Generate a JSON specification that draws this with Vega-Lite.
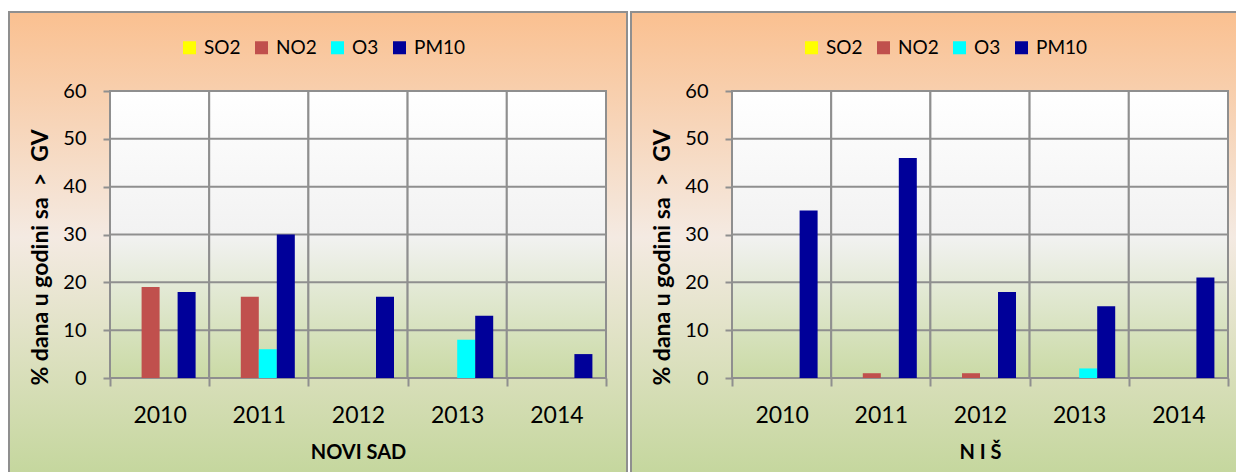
{
  "$schema": "https://vega.github.io/schema/vega-lite/v6.json",
  "background": "white",
  "padding": {"left": 8, "top": 11, "right": 0, "bottom": 0},
  "spacing": 2,
  "resolve": {"scale": {"color": "independent"}, "legend": {"color": "independent"}},
  "datasets": {
    "novisad": [
      {"year": "2010", "pollutant": "SO2", "value": 0},
      {"year": "2010", "pollutant": "NO2", "value": 19},
      {"year": "2010", "pollutant": "O3", "value": 0},
      {"year": "2010", "pollutant": "PM10", "value": 18},
      {"year": "2011", "pollutant": "SO2", "value": 0},
      {"year": "2011", "pollutant": "NO2", "value": 17},
      {"year": "2011", "pollutant": "O3", "value": 6},
      {"year": "2011", "pollutant": "PM10", "value": 30},
      {"year": "2012", "pollutant": "SO2", "value": 0},
      {"year": "2012", "pollutant": "NO2", "value": 0},
      {"year": "2012", "pollutant": "O3", "value": 0},
      {"year": "2012", "pollutant": "PM10", "value": 17},
      {"year": "2013", "pollutant": "SO2", "value": 0},
      {"year": "2013", "pollutant": "NO2", "value": 0},
      {"year": "2013", "pollutant": "O3", "value": 8},
      {"year": "2013", "pollutant": "PM10", "value": 13},
      {"year": "2014", "pollutant": "SO2", "value": 0},
      {"year": "2014", "pollutant": "NO2", "value": 0},
      {"year": "2014", "pollutant": "O3", "value": 0},
      {"year": "2014", "pollutant": "PM10", "value": 5}
    ],
    "nis": [
      {"year": "2010", "pollutant": "SO2", "value": 0},
      {"year": "2010", "pollutant": "NO2", "value": 0},
      {"year": "2010", "pollutant": "O3", "value": 0},
      {"year": "2010", "pollutant": "PM10", "value": 35},
      {"year": "2011", "pollutant": "SO2", "value": 0},
      {"year": "2011", "pollutant": "NO2", "value": 1},
      {"year": "2011", "pollutant": "O3", "value": 0},
      {"year": "2011", "pollutant": "PM10", "value": 46},
      {"year": "2012", "pollutant": "SO2", "value": 0},
      {"year": "2012", "pollutant": "NO2", "value": 1},
      {"year": "2012", "pollutant": "O3", "value": 0},
      {"year": "2012", "pollutant": "PM10", "value": 18},
      {"year": "2013", "pollutant": "SO2", "value": 0},
      {"year": "2013", "pollutant": "NO2", "value": 0},
      {"year": "2013", "pollutant": "O3", "value": 2},
      {"year": "2013", "pollutant": "PM10", "value": 15},
      {"year": "2014", "pollutant": "SO2", "value": 0},
      {"year": "2014", "pollutant": "NO2", "value": 0},
      {"year": "2014", "pollutant": "O3", "value": 0},
      {"year": "2014", "pollutant": "PM10", "value": 21}
    ],
    "years": [{"year": "2010"}, {"year": "2011"}, {"year": "2012"}, {"year": "2013"}, {"year": "2014"}],
    "grid": [{"g": 10}, {"g": 20}, {"g": 30}, {"g": 40}, {"g": 50}]
  },
  "config": {
    "axis": {"domain": false, "grid": false, "tickColor": "#8F8F8F", "tickWidth": 2,
      "labelFont": "Lato", "labelColor": "black", "titleFont": "Lato", "titleFontWeight": "bold", "titleColor": "black"},
    "axisX": {"tickBand": "extent", "tickSize": 8, "labelAngle": 0, "labelFontSize": 23, "labelPadding": 18, "offset": -104,
      "titleFontSize": 20, "titleY": 64, "titleBaseline": "top"},
    "axisY": {"tickSize": 7, "labelFontSize": 20, "labelPadding": 17, "offset": -101,
      "titleFontSize": 23, "titleX": -63, "titleY": 245, "titleAngle": -90, "titleAlign": "center", "titleBaseline": "alphabetic"},
    "legend": {"orient": "none", "legendX": 171, "legendY": 26, "direction": "horizontal", "symbolType": "square", "symbolSize": 169,
      "symbolStrokeWidth": 0, "symbolOpacity": 1, "labelFont": "Lato", "labelFontSize": 19, "labelColor": "black", "labelOffset": 5, "columnPadding": 11, "padding": 0}
  },
  "hconcat": [
    {
      "width": 618,
      "height": 470,
      "view": {
        "fill": {"gradient": "linear", "x1": 0, "y1": 0, "x2": 0, "y2": 1,
          "stops": [{"offset": 0, "color": "#FAC090"}, {"offset": 0.48, "color": "#F4EAE2"}, {"offset": 1, "color": "#C3D69B"}]},
        "stroke": "#8F8F8F", "strokeWidth": 2
      },
      "layer": [
        {
          "data": {"name": "years"},
          "mark": {"type": "rect", "stroke": "#8F8F8F", "strokeWidth": 2,
            "fill": {"gradient": "linear", "x1": 0, "y1": 0, "x2": 0, "y2": 1,
              "stops": [{"offset": 0, "color": "#FFFFFF"}, {"offset": 0.5, "color": "#F2F2F2"}, {"offset": 1, "color": "#CADAA5"}]}},
          "encoding": {
            "x": {"field": "year", "type": "nominal",
              "scale": {"domain": ["2010", "2011", "2012", "2013", "2014"], "range": [101, 597], "paddingInner": 0, "paddingOuter": 0},
              "axis": {"title": "NOVI SAD"}},
            "y": {"datum": 0, "type": "quantitative",
              "scale": {"domain": [0, 60], "range": [366, 79], "nice": false, "zero": true},
              "axis": {"title": "% dana u godini sa \u00a0> \u00a0GV", "values": [0, 10, 20, 30, 40, 50, 60]}},
            "y2": {"datum": 60}
          }
        },
        {
          "data": {"name": "grid"},
          "mark": {"type": "rule", "color": "#8F8F8F", "strokeWidth": 2},
          "encoding": {
            "y": {"field": "g", "type": "quantitative"},
            "x": {"datum": "2010", "type": "nominal", "bandPosition": 0},
            "x2": {"datum": "2014", "bandPosition": 1}
          }
        },
        {
          "data": {"name": "novisad"},
          "mark": {"type": "bar"},
          "encoding": {
            "x": {"field": "year", "type": "nominal"},
            "xOffset": {"field": "pollutant", "type": "nominal",
              "scale": {"domain": ["SO2", "NO2", "O3", "PM10"], "paddingInner": 0, "paddingOuter": 0.755}},
            "y": {"field": "value", "type": "quantitative"},
            "color": {"field": "pollutant", "type": "nominal",
              "scale": {"domain": ["SO2", "NO2", "O3", "PM10"], "range": ["#FFFF00", "#C0504D", "#00FFFF", "#000099"]},
              "legend": {"title": null}}
          }
        }
      ]
    },
    {
      "width": 618,
      "height": 470,
      "view": {
        "fill": {"gradient": "linear", "x1": 0, "y1": 0, "x2": 0, "y2": 1,
          "stops": [{"offset": 0, "color": "#FAC090"}, {"offset": 0.48, "color": "#F4EAE2"}, {"offset": 1, "color": "#C3D69B"}]},
        "stroke": "#8F8F8F", "strokeWidth": 2
      },
      "layer": [
        {
          "data": {"name": "years"},
          "mark": {"type": "rect", "stroke": "#8F8F8F", "strokeWidth": 2,
            "fill": {"gradient": "linear", "x1": 0, "y1": 0, "x2": 0, "y2": 1,
              "stops": [{"offset": 0, "color": "#FFFFFF"}, {"offset": 0.5, "color": "#F2F2F2"}, {"offset": 1, "color": "#CADAA5"}]}},
          "encoding": {
            "x": {"field": "year", "type": "nominal",
              "scale": {"domain": ["2010", "2011", "2012", "2013", "2014"], "range": [101, 597], "paddingInner": 0, "paddingOuter": 0},
              "axis": {"title": "N I Š"}},
            "y": {"datum": 0, "type": "quantitative",
              "scale": {"domain": [0, 60], "range": [366, 79], "nice": false, "zero": true},
              "axis": {"title": "% dana u godini sa \u00a0> \u00a0GV", "values": [0, 10, 20, 30, 40, 50, 60]}},
            "y2": {"datum": 60}
          }
        },
        {
          "data": {"name": "grid"},
          "mark": {"type": "rule", "color": "#8F8F8F", "strokeWidth": 2},
          "encoding": {
            "y": {"field": "g", "type": "quantitative"},
            "x": {"datum": "2010", "type": "nominal", "bandPosition": 0},
            "x2": {"datum": "2014", "bandPosition": 1}
          }
        },
        {
          "data": {"name": "nis"},
          "mark": {"type": "bar"},
          "encoding": {
            "x": {"field": "year", "type": "nominal"},
            "xOffset": {"field": "pollutant", "type": "nominal",
              "scale": {"domain": ["SO2", "NO2", "O3", "PM10"], "paddingInner": 0, "paddingOuter": 0.755}},
            "y": {"field": "value", "type": "quantitative"},
            "color": {"field": "pollutant", "type": "nominal",
              "scale": {"domain": ["SO2", "NO2", "O3", "PM10"], "range": ["#FFFF00", "#C0504D", "#00FFFF", "#000099"]},
              "legend": {"title": null}}
          }
        }
      ]
    }
  ]
}
